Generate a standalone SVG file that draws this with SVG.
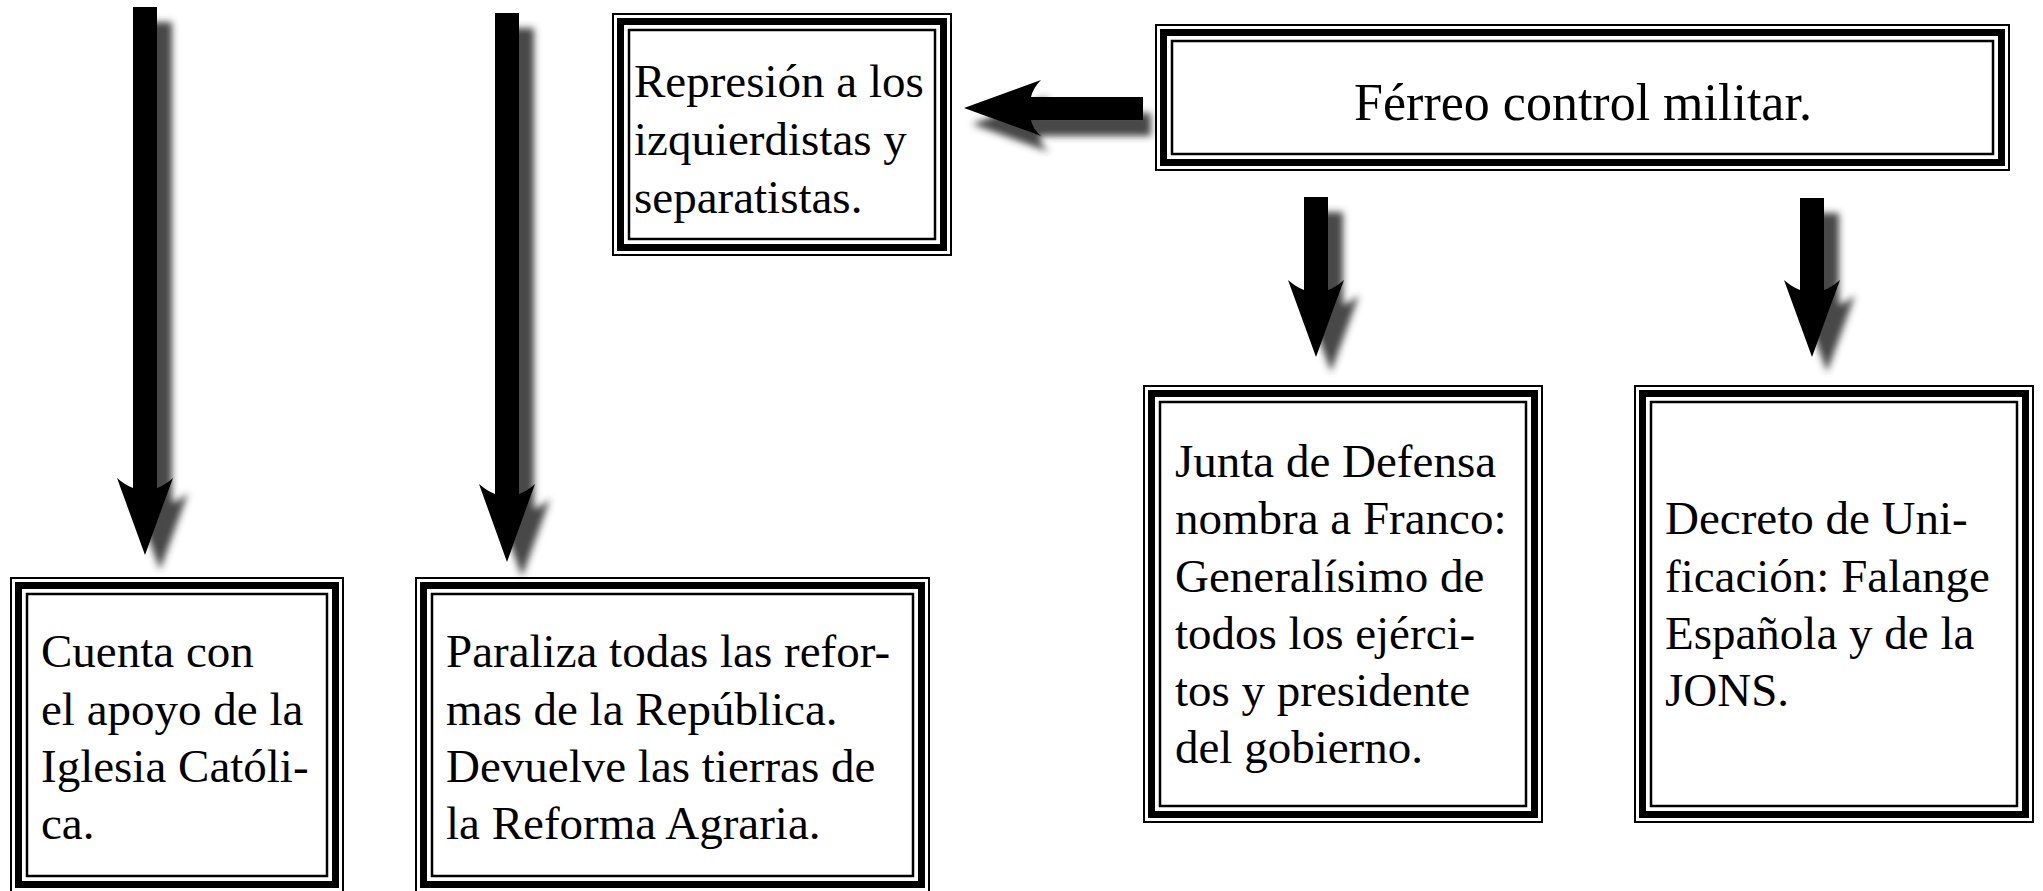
<svg xmlns="http://www.w3.org/2000/svg" width="2043" height="891" viewBox="0 0 2043 891">
<defs>
<style>
.o{fill:#fff;stroke:#000;stroke-width:2}
.t{fill:none;stroke:#000;stroke-width:7}
.i{fill:none;stroke:#000;stroke-width:2.5}
.tx{font-family:"Liberation Serif","Times New Roman",serif;font-size:47px;fill:#000}
.ti{font-family:"Liberation Serif","Times New Roman",serif;font-size:52px;fill:#000}
.ar{fill:#000}
</style>
<filter id="sv" x="-60%" y="-10%" width="220%" height="125%">
<feGaussianBlur in="SourceAlpha" stdDeviation="3.5"/>
<feOffset dx="15" dy="15" result="b"/>
<feFlood flood-color="#333" flood-opacity="0.9"/>
<feComposite in2="b" operator="in"/>
<feMerge><feMergeNode/><feMergeNode in="SourceGraphic"/></feMerge>
</filter>
<filter id="sh" x="-20%" y="-40%" width="140%" height="200%">
<feGaussianBlur in="SourceAlpha" stdDeviation="3.5"/>
<feOffset dx="8" dy="16" result="b"/>
<feFlood flood-color="#333" flood-opacity="0.9"/>
<feComposite in2="b" operator="in"/>
<feMerge><feMergeNode/><feMergeNode in="SourceGraphic"/></feMerge>
</filter>
</defs>
<rect width="2043" height="891" fill="#fff"/>

<g id="connectors">
<path class="ar" filter="url(#sv)" d="M133,7 H157 V488 Q165,485 173,478 L145,555 L117,478 Q125,485 133,488 Z"/>
<path class="ar" filter="url(#sv)" d="M495,13 H519 V494 Q527,491 535,484 L507,562 L479,484 Q487,491 495,494 Z"/>
<path class="ar" filter="url(#sv)" d="M1304,197 H1328 V290 Q1336,287 1344,280 L1316,357 L1288,280 Q1296,287 1304,290 Z"/>
<path class="ar" filter="url(#sv)" d="M1800,198 H1824 V290 Q1832,287 1840,280 L1812,357 L1784,280 Q1792,287 1800,290 Z"/>
<path class="ar" filter="url(#sh)" d="M964,108 L1041,80 Q1033,88 1031,97 H1143 V120 H1031 Q1033,129 1041,136 Z"/>
</g>

<g id="node-represion">
<rect class="o" x="613" y="14" width="338" height="241"/>
<rect class="t" x="620.5" y="21.5" width="323" height="226"/>
<rect class="i" x="629" y="30" width="306" height="209"/>
<text class="tx" x="634"><tspan x="634" y="97">Represión a los</tspan><tspan x="634" y="155">izquierdistas y</tspan><tspan x="634" y="213">separatistas.</tspan></text>
</g>

<g id="node-ferreo">
<rect class="o" x="1156" y="25" width="853" height="145"/>
<rect class="t" x="1163.5" y="32.5" width="838" height="130"/>
<rect class="i" x="1172" y="41" width="821" height="113"/>
<text class="ti" x="1583" y="120" text-anchor="middle">Férreo control militar.</text>
</g>

<g id="node-cuenta">
<rect class="o" x="11" y="578" width="332" height="314"/>
<rect class="t" x="18.5" y="585.5" width="317" height="299"/>
<rect class="i" x="27" y="594" width="300" height="282"/>
<text class="tx"><tspan x="41" y="667">Cuenta con</tspan><tspan x="41" y="725">el apoyo de la</tspan><tspan x="41" y="782">Iglesia Católi-</tspan><tspan x="41" y="839">ca.</tspan></text>
</g>

<g id="node-paraliza">
<rect class="o" x="416" y="578" width="513" height="314"/>
<rect class="t" x="423.5" y="585.5" width="498" height="299"/>
<rect class="i" x="432" y="594" width="481" height="282"/>
<text class="tx"><tspan x="446" y="667">Paraliza todas las refor-</tspan><tspan x="446" y="725">mas de la República.</tspan><tspan x="446" y="782">Devuelve las tierras de</tspan><tspan x="446" y="839">la Reforma Agraria.</tspan></text>
</g>

<g id="node-junta">
<rect class="o" x="1144" y="386" width="398" height="436"/>
<rect class="t" x="1151.5" y="393.5" width="383" height="421"/>
<rect class="i" x="1160" y="402" width="366" height="404"/>
<text class="tx"><tspan x="1175" y="477">Junta de Defensa</tspan><tspan x="1175" y="534">nombra a Franco:</tspan><tspan x="1175" y="592">Generalísimo de</tspan><tspan x="1175" y="649">todos los ejérci-</tspan><tspan x="1175" y="706">tos y presidente</tspan><tspan x="1175" y="763">del gobierno.</tspan></text>
</g>

<g id="node-decreto">
<rect class="o" x="1635" y="386" width="398" height="436"/>
<rect class="t" x="1642.5" y="393.5" width="383" height="421"/>
<rect class="i" x="1651" y="402" width="366" height="404"/>
<text class="tx"><tspan x="1665" y="534">Decreto de Uni-</tspan><tspan x="1665" y="592">ficación: Falange</tspan><tspan x="1665" y="649">Española y de la</tspan><tspan x="1665" y="706">JONS.</tspan></text>
</g>
</svg>
